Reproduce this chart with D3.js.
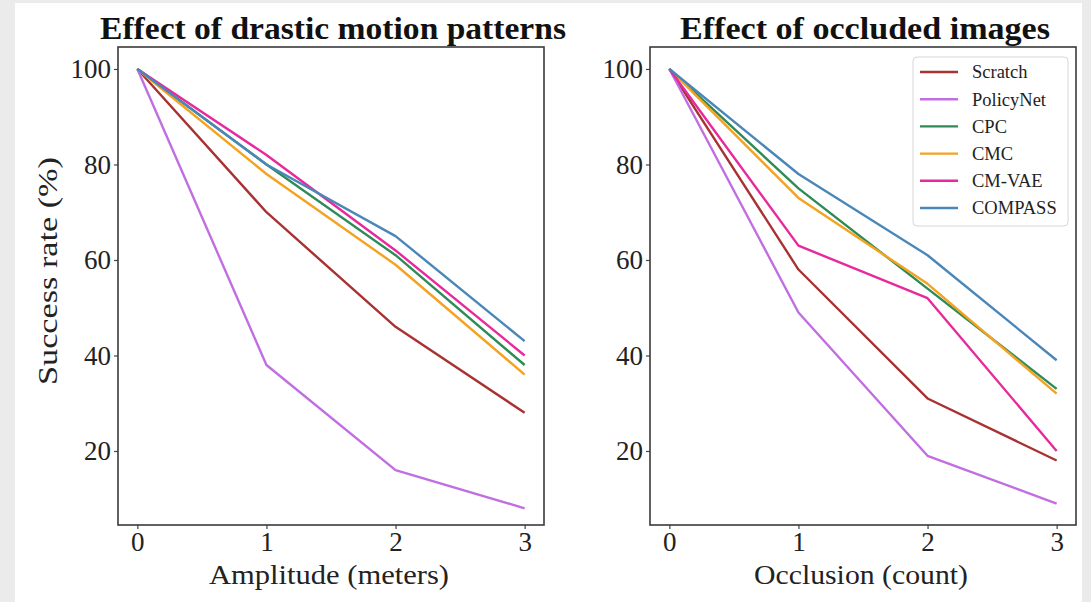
<!DOCTYPE html>
<html>
<head>
<meta charset="utf-8">
<script src="https://cdn.jsdelivr.net/npm/d3@7"></script>
<style>
  body { margin: 0; background: #ebebeb; }
  svg { display: block; }
  .tick text { font-family: "Liberation Serif", serif; font-size: 27px; fill: #222; }
</style>
</head>
<body>
<svg id="chart"></svg>
<script>
// Data
const xValues = [0, 1, 2, 3];
const methods = ["Scratch", "PolicyNet", "CPC", "CMC", "CM-VAE", "COMPASS"];
const colors = ["#a83232", "#c06ee0", "#2e8b57", "#f5a21f", "#e8299b", "#4a87b8"];

const motionScratch = [100, 70, 46, 28];
const motionPolicyNet = [100, 38, 16, 8];
const motionCPC = [100, 80, 61, 38];
const motionCMC = [100, 78, 59, 36];
const motionCMVAE = [100, 82, 62, 40];
const motionCOMPASS = [100, 80, 65, 43];

const occScratch = [100, 58, 31, 18];
const occPolicyNet = [100, 49, 19, 9];
const occCPC = [100, 75, 54, 33];
const occCMC = [100, 73, 55, 32];
const occCMVAE = [100, 63, 52, 20];
const occCOMPASS = [100, 78, 61, 39];

const yTicks = [20, 40, 60, 80, 100];

const panels = [
  {
    title: "Effect of drastic motion patterns", titleLen: 466,
    xLabel: "Amplitude (meters)", xLabelLen: 240,
    series: [motionScratch, motionPolicyNet, motionCPC, motionCMC, motionCMVAE, motionCOMPASS],
    left: 118, legend: false
  },
  {
    title: "Effect of occluded images", titleLen: 370,
    xLabel: "Occlusion (count)", xLabelLen: 214,
    series: [occScratch, occPolicyNet, occCPC, occCMC, occCMVAE, occCOMPASS],
    left: 650, legend: true
  }
];

// Dimensions
const W = 1091, H = 602;
const plotW = 426, plotTop = 47, plotBottom = 525;

const svg = d3.select("#chart").attr("width", W).attr("height", H);

// white page area
svg.append("rect").attr("x", 15).attr("y", 3).attr("width", 1067).attr("height", H - 3).attr("fill", "#fff");

const yScale = d3.scaleLinear().domain([4.5, 104.6]).range([plotBottom, plotTop]);

panels.forEach((p) => {
  const xScale = d3.scaleLinear().domain([-0.15, 3.15]).range([p.left, p.left + plotW]);
  const g = svg.append("g");

  // Lines
  const line = d3.line().x((d, i) => xScale(xValues[i])).y((d) => yScale(d));
  p.series.forEach((s, i) => {
    g.append("path")
      .datum(s)
      .attr("d", line)
      .attr("fill", "none")
      .attr("stroke", colors[i])
      .attr("stroke-width", 2.4)
      .attr("stroke-linejoin", "round");
  });

  // Axes
  const xAxis = d3.axisBottom(xScale).tickValues(xValues).tickSize(4).tickPadding(3).tickFormat(d3.format("d"));
  const yAxis = d3.axisLeft(yScale).tickValues(yTicks).tickSize(4).tickPadding(3);

  const gx = g.append("g").attr("transform", `translate(0, ${plotBottom})`).call(xAxis);
  const gy = g.append("g").attr("transform", `translate(${p.left}, 0)`).call(yAxis);
  [gx, gy].forEach((a) => {
    a.select(".domain").remove();
    a.selectAll(".tick line").attr("stroke", "#444").attr("stroke-width", 1.2);
  });

  // Frame
  g.append("rect")
    .attr("x", p.left).attr("y", plotTop)
    .attr("width", plotW).attr("height", plotBottom - plotTop)
    .attr("fill", "none").attr("stroke", "#3a3a3a").attr("stroke-width", 1.6);

  // Title
  g.append("text")
    .attr("x", p.left + plotW / 2 + 2).attr("y", 39)
    .attr("text-anchor", "middle")
    .attr("textLength", p.titleLen).attr("lengthAdjust", "spacingAndGlyphs")
    .style("font-family", "Liberation Serif, serif")
    .style("font-weight", "bold").style("font-size", "31px").style("fill", "#111")
    .text(p.title);

  // x label
  g.append("text")
    .attr("x", p.left + plotW / 2 - 2).attr("y", 584)
    .attr("text-anchor", "middle")
    .attr("textLength", p.xLabelLen).attr("lengthAdjust", "spacingAndGlyphs")
    .style("font-family", "Liberation Serif, serif")
    .style("font-size", "28px").style("fill", "#222")
    .text(p.xLabel);

  // Legend
  if (p.legend) {
    const lg = g.append("g").attr("transform", "translate(913, 57)");
    lg.append("rect")
      .attr("width", 155).attr("height", 169).attr("rx", 4)
      .attr("fill", "#fff").attr("stroke", "#d6d6d6").attr("stroke-width", 1);
    methods.forEach((m, i) => {
      const y = 15 + i * 27.2;
      lg.append("line")
        .attr("x1", 7).attr("x2", 45).attr("y1", y).attr("y2", y)
        .attr("stroke", colors[i]).attr("stroke-width", 2.4);
      lg.append("text")
        .attr("x", 59).attr("y", y).attr("dy", "0.35em")
        .style("font-family", "Liberation Serif, serif")
        .style("font-size", "18.5px").style("fill", "#222")
        .text(m);
    });
  }
});

// y label
svg.append("text")
  .attr("transform", "translate(57, 271) rotate(-90)")
  .attr("text-anchor", "middle")
  .attr("textLength", 228).attr("lengthAdjust", "spacingAndGlyphs")
  .style("font-family", "Liberation Serif, serif")
  .style("font-size", "28px").style("fill", "#222")
  .text("Success rate (%)");
</script>
</body>
</html>
